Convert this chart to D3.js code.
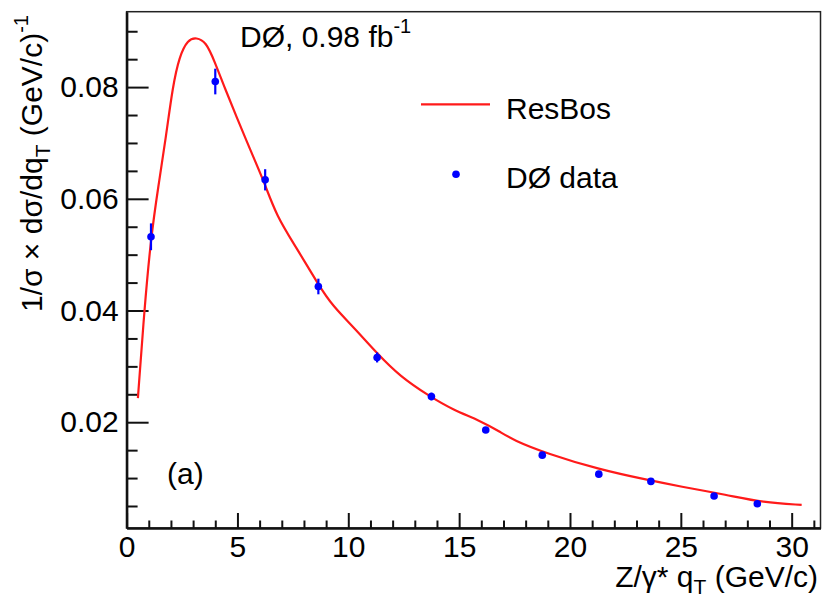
<!DOCTYPE html>
<meta charset="utf-8">
<script src="https://d3js.org/d3.v7.min.js"></script>
<style>
  body { margin: 0; background: #fff; }
  text { font-family: "Liberation Sans", Arial, Helvetica, sans-serif; }
</style>
<div id="my_dataviz"></div>
<script>

// D0 data points (q_T bin centres, normalised cross section, stat. errors)
var qtData = [1.1, 4.0, 6.25, 8.65, 11.3, 13.75, 16.2, 18.75, 21.3, 23.65, 26.5, 28.45];
var sigmaData = [0.0532, 0.0810, 0.0634, 0.0443, 0.0316, 0.0246, 0.0186, 0.0141, 0.0107, 0.0094, 0.0068, 0.0054];
var errData = [0.0024, 0.0023, 0.0019, 0.0014, 0.0009, 0.0007, 0.0004, 0.0003, 0.0002, 0.0002, 0.0002, 0.0002];

// ResBos prediction
var resbosQt = [0.51, 0.80, 1.10, 1.43, 1.78, 2.08, 2.38, 2.76, 3.15, 3.58, 3.96, 4.44, 4.96, 5.57, 6.17, 6.77, 7.67, 8.65, 9.32, 10.22, 11.28, 12.33, 13.68, 14.73, 15.94, 16.84, 17.44, 18.95, 21.35, 23.46, 24.96, 27.07, 28.72, 30.45];
var resbosSigma = [0.0243, 0.0401, 0.0532, 0.0622, 0.0712, 0.0801, 0.0855, 0.0885, 0.0889, 0.0881, 0.0847, 0.0797, 0.0747, 0.0688, 0.0634, 0.0568, 0.0512, 0.0446, 0.0407, 0.0371, 0.0324, 0.0282, 0.0246, 0.0222, 0.0203, 0.0183, 0.0168, 0.0144, 0.0115, 0.0097, 0.0085, 0.0070, 0.0056, 0.0052];

// axis ticks
var xMajor = [0, 5, 10, 15, 20, 25, 30];
var yMajor = [0.02, 0.04, 0.06, 0.08];

var width = 822, height = 602;
// plot frame in pixels ("top" is reserved on window, so use other names)
var frameL = 126.6, frameR = 820.5, frameT = 11.7, frameB = 528;

var svg = d3.select("#my_dataviz")
  .append("svg")
    .attr("width", width)
    .attr("height", height);

var x = d3.scaleLinear().domain([0, 31.3]).range([frameL, frameR]);
var y = d3.scaleLinear().domain([0.00106, 0.0935]).range([frameB, frameT]);

// frame
svg.append("rect")
  .attr("x", frameL).attr("y", frameT)
  .attr("width", frameR - frameL).attr("height", frameB - frameT)
  .attr("fill", "none").attr("stroke", "#222").attr("stroke-width", 1.5);

// X axis, minor then major ticks (pointing inside)
var xMinor = d3.range(0, 32, 1).filter(function(d){ return xMajor.indexOf(d) < 0; });
svg.append("g")
  .attr("transform", "translate(0," + frameB + ")")
  .call(d3.axisBottom(x).tickValues(xMinor).tickSize(-7.5).tickFormat(""))
  .call(function(g){ g.select(".domain").remove(); });
var xAx = svg.append("g")
  .attr("transform", "translate(0," + frameB + ")")
  .call(d3.axisBottom(x).tickValues(xMajor).tickSize(-15).tickSizeOuter(0).tickPadding(8).tickFormat(d3.format("d")));
xAx.selectAll("text").style("font-size", "30px").attr("fill", "#000");

// Y axis, minor ticks every 0.005
var yMinor = d3.range(1, 19)
  .filter(function(i){ return i % 4 != 0; })
  .map(function(i){ return i * 0.005; });
svg.append("g")
  .attr("transform", "translate(" + frameL + ",0)")
  .call(d3.axisLeft(y).tickValues(yMinor).tickSize(-11).tickFormat(""))
  .call(function(g){ g.select(".domain").remove(); });
var yAx = svg.append("g")
  .attr("transform", "translate(" + frameL + ",0)")
  .call(d3.axisLeft(y).tickValues(yMajor).tickSize(-22).tickSizeOuter(0).tickPadding(8).tickFormat(d3.format(".2f")));
yAx.selectAll("text").style("font-size", "30px").attr("fill", "#000");

svg.selectAll(".tick line").attr("stroke", "#111").attr("stroke-width", 2);
svg.selectAll(".domain").attr("stroke", "#111").attr("stroke-width", 2.5);

// ResBos curve
var curvePts = resbosQt.map(function(d, i){ return [d, resbosSigma[i]]; });
svg.append("path")
  .datum(curvePts)
  .attr("fill", "none")
  .attr("stroke", "#ff1a1a")
  .attr("stroke-width", 2.2)
  .attr("d", d3.line()
    .x(function(d){ return x(d[0]); })
    .y(function(d){ return y(d[1]); })
    .curve(d3.curveBasis));

// data points with error bars
var pts = qtData.map(function(d, i){ return {q: d, s: sigmaData[i], e: errData[i]}; });
svg.append("g").selectAll("line")
  .data(pts).enter().append("line")
    .attr("x1", function(d){ return x(d.q); })
    .attr("x2", function(d){ return x(d.q); })
    .attr("y1", function(d){ return y(d.s + d.e); })
    .attr("y2", function(d){ return y(d.s - d.e); })
    .attr("stroke", "#0000ff").attr("stroke-width", 2.2);
svg.append("g").selectAll("circle")
  .data(pts).enter().append("circle")
    .attr("cx", function(d){ return x(d.q); })
    .attr("cy", function(d){ return y(d.s); })
    .attr("r", 3.8)
    .attr("fill", "#0000ff");

// title
var t = svg.append("text").attr("x", 240).attr("y", 47).style("font-size", "30px");
t.append("tspan").text("DØ, 0.98 fb");
t.append("tspan").attr("dy", -14).style("font-size", "20px").text("-1");

// legend
svg.append("line").attr("x1", 421).attr("x2", 490).attr("y1", 104.3).attr("y2", 104.3)
  .attr("stroke", "#ff1a1a").attr("stroke-width", 2.2);
svg.append("text").attr("x", 506).attr("y", 119).style("font-size", "30px").text("ResBos");
svg.append("circle").attr("cx", 456).attr("cy", 174.3).attr("r", 3.8).attr("fill", "#0000ff");
svg.append("text").attr("x", 506).attr("y", 188).style("font-size", "30px").text("DØ data");

// panel label
svg.append("text").attr("x", 167).attr("y", 484).style("font-size", "30px").text("(a)");

// x axis title
var xt = svg.append("text").attr("x", 818).attr("y", 587).attr("text-anchor", "end").style("font-size", "30px");
xt.append("tspan").text("Z/γ* q");
xt.append("tspan").attr("dy", 7).style("font-size", "21px").text("T");
xt.append("tspan").attr("dy", -7).text(" (GeV/c)");

// y axis title
var yt = svg.append("text").attr("transform", "translate(42,312) rotate(-90)").style("font-size", "30px");
yt.append("tspan").text("1/σ × dσ/dq");
yt.append("tspan").attr("dy", 8).style("font-size", "21px").text("T");
yt.append("tspan").attr("dy", -8).text(" (GeV/c)");
yt.append("tspan").attr("dy", -14).style("font-size", "20px").text("-1");

</script>
